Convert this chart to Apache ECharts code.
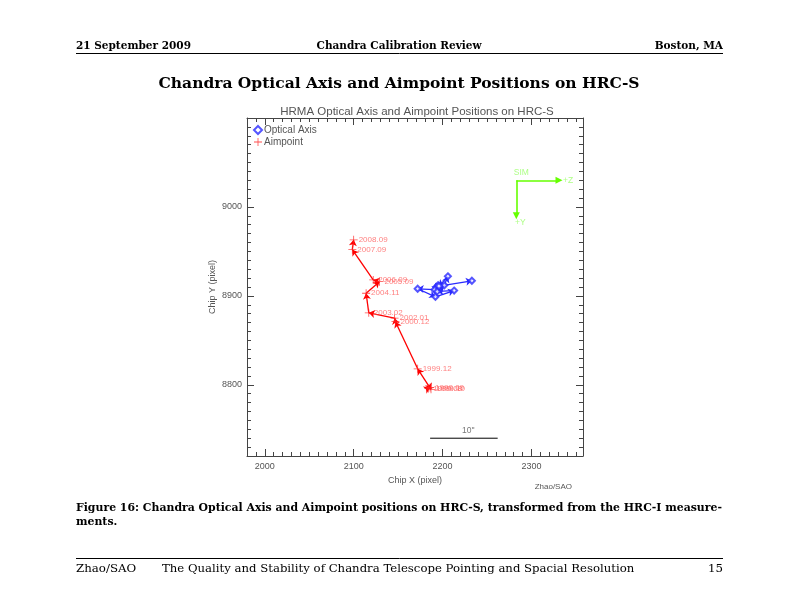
<!DOCTYPE html>
<html>
<head>
<meta charset="utf-8">
<script src="https://cdn.jsdelivr.net/npm/echarts@6/dist/echarts.min.js"></script>
<style>
  html, body { margin: 0; padding: 0; background: #fff; }
  #main { width: 792px; height: 612px; }
</style>
</head>
<body>
<div id="main"></div>
<script>
// aimpoint (red) positions, chronological
const aimDates = ['1999.08', '1999.09', '1999.10', '1999.12', '2000.12', '2002.01', '2003.02', '2004.11', '2005.09', '2006.09', '2007.09', '2008.09']
const aimX = [2184, 2186, 2187, 2172, 2147, 2146, 2117, 2114, 2129, 2122, 2098.5, 2100]
const aimY = [8796, 8797, 8795, 8818, 8871, 8875, 8881, 8903, 8916, 8918, 8952, 8963]

// optical axis (blue) positions
const optX = [2193, 2195, 2191, 2172, 2192, 2213, 2194, 2202, 2206, 2196, 2233]
const optY = [8910, 8912, 8907, 8908, 8899, 8906, 8905, 8912, 8922, 8911, 8917]

// axis ticks
const xMajor = [2000, 2100, 2200, 2300]
const yMajor = [8800, 8900, 9000]

// 10 arcsec scale bar and SIM direction marker
const scaleBarX = [2186, 2262]
const scaleBarY = 8740
const simOrigin = [2283, 9030]
const simZEnd = [2331, 9030]
const simYEnd = [2283, 8990]

const dom = document.getElementById('main')
const myChart = echarts.init(dom, null, { renderer: 'canvas' })

const toSegments = (xs, ys) => {
  const res = []
  for (let i = 1; i < xs.length; i++) {
    res.push({ coords: [[xs[i - 1], ys[i - 1]], [xs[i], ys[i]]] })
  }
  return res
}

const axisGray = '#444'
const tickFont = 'Liberation Sans'
const serif = '"DejaVu Serif"'
const plusPath = 'path://M4.5,0h1v10h-1zM0,4.5h10v1h-10z'
const plainNum = v => String(v)

const xBase = { min: 1980, max: 2358, splitLine: { show: false }, gridIndex: 0 }
const yBase = { min: 8720, max: 9100, splitLine: { show: false }, gridIndex: 0 }

const option = {
  animation: false,
  backgroundColor: '#fff',
  title: {
    text: 'HRMA Optical Axis and Aimpoint Positions on HRC-S',
    left: 412,
    top: 101,
    textAlign: 'center',
    textStyle: { fontFamily: tickFont, fontSize: 11.5, fontWeight: 'normal', color: '#555' }
  },
  legend: {
    orient: 'vertical',
    left: 253,
    top: 125,
    padding: 0,
    itemGap: 2,
    itemWidth: 8,
    itemHeight: 8,
    data: ['Optical Axis', 'Aimpoint'],
    textStyle: { fontFamily: tickFont, fontSize: 10, color: '#555', padding: [0, 0, 0, -3] }
  },
  grid: { left: 247, top: 118, width: 336, height: 338 },
  xAxis: [
    Object.assign({}, xBase, {
      type: 'value',
      position: 'bottom',
      name: 'Chip X (pixel)',
      nameLocation: 'middle',
      nameGap: 20,
      nameTextStyle: { fontFamily: tickFont, fontSize: 9, color: '#555' },
      axisLine: { show: true, lineStyle: { color: axisGray, width: 1 } },
      axisTick: { inside: true, length: 7, customValues: xMajor, lineStyle: { color: axisGray } },
      axisLabel: { customValues: xMajor, formatter: plainNum, fontFamily: tickFont, fontSize: 9, color: '#555', margin: 6 }
    }),
    Object.assign({}, xBase, {
      type: 'value',
      position: 'bottom',
      interval: 10,
      axisLine: { show: false },
      axisTick: { inside: true, length: 4, lineStyle: { color: axisGray } },
      axisLabel: { show: false }
    }),
    Object.assign({}, xBase, {
      type: 'value',
      position: 'top',
      axisLine: { show: true, lineStyle: { color: axisGray, width: 1 } },
      axisTick: { inside: true, length: 7, customValues: xMajor, lineStyle: { color: axisGray } },
      axisLabel: { show: false }
    }),
    Object.assign({}, xBase, {
      type: 'value',
      position: 'top',
      interval: 10,
      axisLine: { show: false },
      axisTick: { inside: true, length: 4, lineStyle: { color: axisGray } },
      axisLabel: { show: false }
    })
  ],
  yAxis: [
    Object.assign({}, yBase, {
      type: 'value',
      position: 'left',
      name: 'Chip Y (pixel)',
      nameLocation: 'middle',
      nameGap: 30,
      nameTextStyle: { fontFamily: tickFont, fontSize: 9, color: '#555' },
      axisLine: { show: true, lineStyle: { color: axisGray, width: 1 } },
      axisTick: { inside: true, length: 7, customValues: yMajor, lineStyle: { color: axisGray } },
      axisLabel: { customValues: yMajor, formatter: plainNum, fontFamily: tickFont, fontSize: 9, color: '#555', margin: 5 }
    }),
    Object.assign({}, yBase, {
      type: 'value',
      position: 'left',
      interval: 10,
      axisLine: { show: false },
      axisTick: { inside: true, length: 4, lineStyle: { color: axisGray } },
      axisLabel: { show: false }
    }),
    Object.assign({}, yBase, {
      type: 'value',
      position: 'right',
      axisLine: { show: true, lineStyle: { color: axisGray, width: 1 } },
      axisTick: { inside: true, length: 7, customValues: yMajor, lineStyle: { color: axisGray } },
      axisLabel: { show: false }
    }),
    Object.assign({}, yBase, {
      type: 'value',
      position: 'right',
      interval: 10,
      axisLine: { show: false },
      axisTick: { inside: true, length: 4, lineStyle: { color: axisGray } },
      axisLabel: { show: false }
    })
  ],
  series: [
    {
      name: 'Optical Axis',
      type: 'scatter',
      symbol: 'emptyDiamond',
      symbolSize: 6,
      itemStyle: { color: '#2a2aff', borderColor: '#2a2aff', borderWidth: 0.9 },
      data: optX.map((x, i) => [x, optY[i]]),
      z: 5
    },
    {
      type: 'lines',
      coordinateSystem: 'cartesian2d',
      symbol: ['none', 'arrow'],
      symbolSize: 6,
      lineStyle: { color: '#2a2aff', width: 1.3, opacity: 1 },
      data: toSegments(optX, optY),
      z: 4
    },
    {
      name: 'Aimpoint',
      type: 'scatter',
      symbol: plusPath,
      symbolSize: 8,
      itemStyle: { color: '#ff2020' },
      label: {
        show: true,
        position: 'right',
        distance: 1,
        fontFamily: tickFont,
        fontSize: 8,
        color: '#ff6262',
        formatter: p => aimDates[p.dataIndex]
      },
      data: aimX.map((x, i) => [x, aimY[i]]),
      z: 5
    },
    {
      type: 'lines',
      coordinateSystem: 'cartesian2d',
      symbol: ['none', 'arrow'],
      symbolSize: 6,
      lineStyle: { color: '#ff0000', width: 1.3, opacity: 1 },
      data: toSegments(aimX, aimY),
      z: 4
    },
    {
      // 10 arcsec scale bar
      type: 'line',
      symbol: 'none',
      lineStyle: { color: '#000', width: 1 },
      data: [[scaleBarX[0], scaleBarY], [scaleBarX[1], scaleBarY]],
      silent: true
    },
    {
      type: 'scatter',
      symbolSize: 0,
      silent: true,
      label: {
        show: true,
        position: 'top',
        distance: 2,
        fontFamily: tickFont,
        fontSize: 8.5,
        color: '#555',
        formatter: '10\'\''
      },
      data: [[(scaleBarX[0] + scaleBarX[1]) / 2 + 5, scaleBarY + 1]]
    },
    {
      // SIM direction arrows
      type: 'lines',
      coordinateSystem: 'cartesian2d',
      symbol: ['none', 'triangle'],
      symbolSize: [0, 7],
      lineStyle: { color: '#66ff00', width: 1.6, opacity: 1 },
      data: [{ coords: [simOrigin, simZEnd] }, { coords: [simOrigin, simYEnd] }],
      z: 4
    },
    {
      type: 'scatter',
      symbolSize: 0,
      silent: true,
      label: {
        show: true,
        fontFamily: tickFont,
        fontSize: 8.5,
        color: '#99ff66',
        formatter: p => p.value[2]
      },
      data: [
        { value: [simOrigin[0], simOrigin[1], 'SIM'], label: { position: 'top', distance: 3, offset: [5, 0] } },
        { value: [simZEnd[0], simZEnd[1], '+Z'], label: { position: 'right', distance: 4 } },
        { value: [simYEnd[0], simYEnd[1], '+Y'], label: { position: 'bottom', distance: 2, offset: [4, 0] } }
      ]
    }
  ],
  graphic: [
    { type: 'text', x: 76, y: 46, style: { text: '21 September 2009', font: 'bold 10.5px ' + serif, fill: '#000', textVerticalAlign: 'middle' } },
    { type: 'text', x: 399, y: 46, style: { text: 'Chandra Calibration Review', font: 'bold 10.5px ' + serif, fill: '#000', textAlign: 'center', textVerticalAlign: 'middle' } },
    { type: 'text', x: 723, y: 46, style: { text: 'Boston, MA', font: 'bold 10.5px ' + serif, fill: '#000', textAlign: 'right', textVerticalAlign: 'middle' } },
    { type: 'line', shape: { x1: 76, y1: 53.5, x2: 723, y2: 53.5 }, style: { stroke: '#000', lineWidth: 1 } },
    { type: 'text', x: 399, y: 84, style: { text: 'Chandra Optical Axis and Aimpoint Positions on HRC-S', font: 'bold 15.5px ' + serif, fill: '#000', textAlign: 'center', textVerticalAlign: 'middle' } },
    { type: 'text', x: 572, y: 487, style: { text: 'Zhao/SAO', font: '8px "Liberation Sans"', fill: '#555', textAlign: 'right', textVerticalAlign: 'middle' } },
    { type: 'text', x: 76, y: 508, style: { text: 'Figure 16: Chandra Optical Axis and Aimpoint positions on HRC-S, transformed from the HRC-I measure-', font: 'bold 10.9px ' + serif, fill: '#000', textVerticalAlign: 'middle' } },
    { type: 'text', x: 76, y: 522, style: { text: 'ments.', font: 'bold 10.9px ' + serif, fill: '#000', textVerticalAlign: 'middle' } },
    { type: 'line', shape: { x1: 76, y1: 558.5, x2: 723, y2: 558.5 }, style: { stroke: '#000', lineWidth: 1 } },
    { type: 'text', x: 76, y: 569, style: { text: 'Zhao/SAO', font: '11.8px ' + serif, fill: '#000', textVerticalAlign: 'middle' } },
    { type: 'text', x: 162, y: 569, style: { text: 'The Quality and Stability of Chandra Telescope Pointing and Spacial Resolution', font: '11.7px ' + serif, fill: '#000', textVerticalAlign: 'middle' } },
    { type: 'text', x: 723, y: 569, style: { text: '15', font: '11.8px ' + serif, fill: '#000', textAlign: 'right', textVerticalAlign: 'middle' } }
  ]
}

myChart.setOption(option)
</script>
</body>
</html>
